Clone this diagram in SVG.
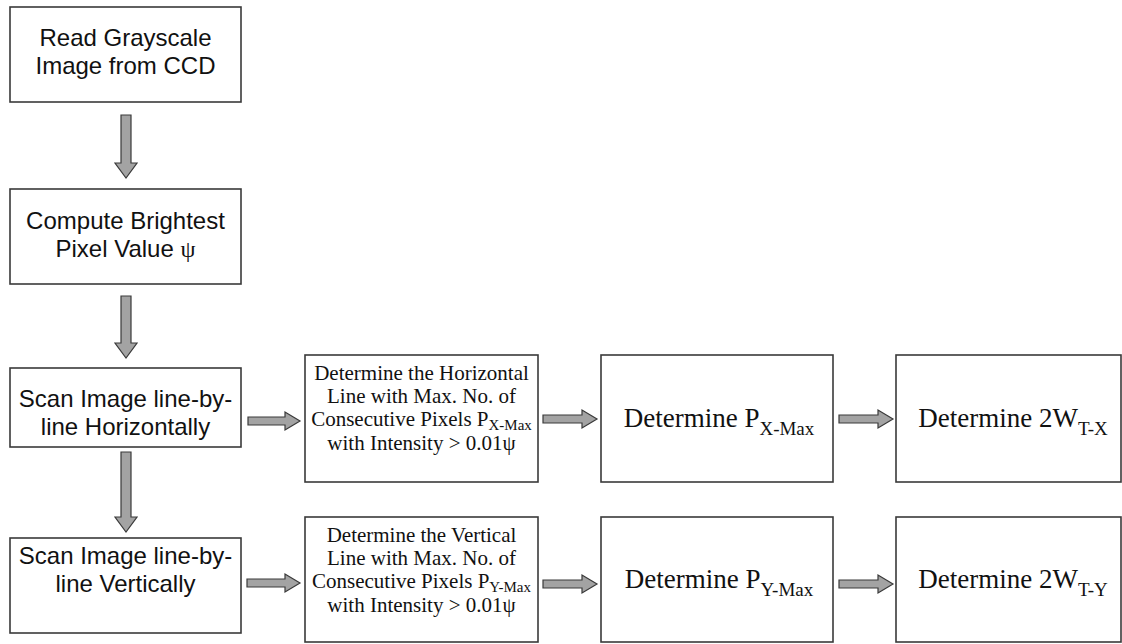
<svg xmlns="http://www.w3.org/2000/svg" width="1122" height="644" viewBox="0 0 1122 644">
<style>
.box{fill:#fff;stroke:#3a3a3a;stroke-width:1.6}
.arr{fill:#a3a3a3;stroke:#3a3a3a;stroke-width:1.2;stroke-linejoin:miter}
.sans{font-family:"Liberation Sans",Arial,sans-serif;font-size:24px;fill:#111;text-anchor:middle}
.serif{font-family:"Liberation Serif","Times New Roman",serif;fill:#111;text-anchor:middle}
.s21{font-size:21px}
.s27{font-size:27px}
</style>
<rect width="1122" height="644" fill="#fff"/>
<g id="connectors">
<path class="arr" d="M121,115 H131 V163 H137 L126,178 L115,163 H121 Z"/>
<path class="arr" d="M121,296 H131 V343 H137 L126,358 L115,343 H121 Z"/>
<path class="arr" d="M121,452 H131 V517 H137 L126,532 L115,517 H121 Z"/>
<path class="arr" d="M248,417 V425 H285 V430 L300,421 L285,412 V417 Z"/>
<path class="arr" d="M543,415 V423 H582 V428 L597,419 L582,410 V415 Z"/>
<path class="arr" d="M839,415 V423 H878 V428 L893,419 L878,410 V415 Z"/>
<path class="arr" d="M247,579 V587 H285 V592 L300,583 L285,574 V579 Z"/>
<path class="arr" d="M543,580 V588 H582 V593 L597,584 L582,575 V580 Z"/>
<path class="arr" d="M839,580 V588 H878 V593 L893,584 L878,575 V580 Z"/>
</g>
<g id="n1">
<rect class="box" x="10" y="7" width="231" height="95"/>
<text class="sans" x="125.5" y="46">Read Grayscale</text>
<text class="sans" x="125.5" y="74">Image from CCD</text>
</g>
<g id="n2">
<rect class="box" x="10" y="189" width="231" height="95"/>
<text class="sans" x="125.5" y="229">Compute Brightest</text>
<text class="sans" x="125.5" y="257">Pixel Value <tspan font-family="'Liberation Serif',serif">ψ</tspan></text>
</g>
<g id="n3">
<rect class="box" x="10" y="368" width="231" height="79"/>
<text class="sans" x="125.5" y="407">Scan Image line-by-</text>
<text class="sans" x="125.5" y="435">line Horizontally</text>
</g>
<g id="n4">
<rect class="box" x="10" y="538" width="231" height="95"/>
<text class="sans" x="125.5" y="564">Scan Image line-by-</text>
<text class="sans" x="125.5" y="592">line Vertically</text>
</g>
<g id="n5">
<rect class="box" x="305" y="355" width="233" height="127"/>
<text class="serif s21" x="421.5" y="380">Determine the Horizontal</text>
<text class="serif s21" x="421.5" y="403">Line with Max. No. of</text>
<text class="serif s21" x="421.5" y="426">Consecutive Pixels P<tspan font-size="15" dy="4">X-Max</tspan></text>
<text class="serif s21" x="421.5" y="450">with Intensity &gt; 0.01ψ</text>
</g>
<g id="n6">
<rect class="box" x="305" y="517" width="233" height="125"/>
<text class="serif s21" x="421.5" y="542">Determine the Vertical</text>
<text class="serif s21" x="421.5" y="565">Line with Max. No. of</text>
<text class="serif s21" x="421.5" y="588">Consecutive Pixels P<tspan font-size="15" dy="4">Y-Max</tspan></text>
<text class="serif s21" x="421.5" y="612">with Intensity &gt; 0.01ψ</text>
</g>
<g id="n7">
<rect class="box" x="601" y="355" width="232" height="127"/>
<text class="serif s27" x="719" y="427">Determine P<tspan font-size="19" dy="8">X-Max</tspan></text>
</g>
<g id="n8">
<rect class="box" x="601" y="517" width="232" height="125"/>
<text class="serif s27" x="719" y="588">Determine P<tspan font-size="19" dy="8">Y-Max</tspan></text>
</g>
<g id="n9">
<rect class="box" x="896" y="355" width="225" height="127"/>
<text class="serif s27" x="1013" y="427">Determine 2W<tspan font-size="19" dy="8">T-X</tspan></text>
</g>
<g id="n10">
<rect class="box" x="896" y="517" width="225" height="125"/>
<text class="serif s27" x="1013" y="588">Determine 2W<tspan font-size="19" dy="8">T-Y</tspan></text>
</g>
</svg>
